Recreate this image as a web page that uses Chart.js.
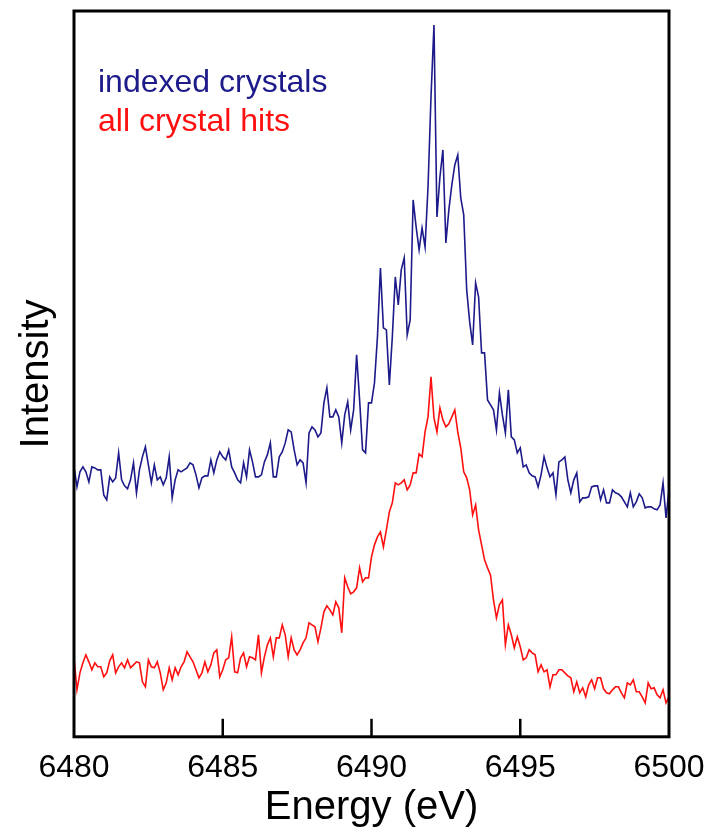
<!DOCTYPE html>
<html>
<head>
<meta charset="utf-8">
<title>Energy spectra</title>
<script src="https://cdn.jsdelivr.net/npm/chart.js@4/dist/chart.umd.min.js"></script>
<style>
  html, body { margin: 0; padding: 0; background: #fff; }
  #chart { display: block; }
</style>
</head>
<body>
<canvas id="chart" width="711" height="834"></canvas>
<script>
// energy grid (eV)
const energy = [
  6480.0, 6480.1, 6480.2, 6480.3, 6480.4, 6480.5, 6480.6, 6480.7, 6480.8, 6480.9,
  6481.0, 6481.1, 6481.2, 6481.3, 6481.4, 6481.5, 6481.6, 6481.7, 6481.8, 6481.9,
  6482.0, 6482.1, 6482.2, 6482.3, 6482.4, 6482.5, 6482.6, 6482.7, 6482.8, 6482.9,
  6483.0, 6483.1, 6483.2, 6483.3, 6483.4, 6483.5, 6483.6, 6483.7, 6483.8, 6483.9,
  6484.0, 6484.1, 6484.2, 6484.3, 6484.4, 6484.5, 6484.6, 6484.7, 6484.8, 6484.9,
  6485.0, 6485.1, 6485.2, 6485.3, 6485.4, 6485.5, 6485.6, 6485.7, 6485.8, 6485.9,
  6486.0, 6486.1, 6486.2, 6486.3, 6486.4, 6486.5, 6486.6, 6486.7, 6486.8, 6486.9,
  6487.0, 6487.1, 6487.2, 6487.3, 6487.4, 6487.5, 6487.6, 6487.7, 6487.8, 6487.9,
  6488.0, 6488.1, 6488.2, 6488.3, 6488.4, 6488.5, 6488.6, 6488.7, 6488.8, 6488.9,
  6489.0, 6489.1, 6489.2, 6489.3, 6489.4, 6489.5, 6489.6, 6489.7, 6489.8, 6489.9,
  6490.0, 6490.1, 6490.2, 6490.3, 6490.4, 6490.5, 6490.6, 6490.7, 6490.8, 6490.9,
  6491.0, 6491.1, 6491.2, 6491.3, 6491.4, 6491.5, 6491.6, 6491.7, 6491.8, 6491.9,
  6492.0, 6492.1, 6492.2, 6492.3, 6492.4, 6492.5, 6492.6, 6492.7, 6492.8, 6492.9,
  6493.0, 6493.1, 6493.2, 6493.3, 6493.4, 6493.5, 6493.6, 6493.7, 6493.8, 6493.9,
  6494.0, 6494.1, 6494.2, 6494.3, 6494.4, 6494.5, 6494.6, 6494.7, 6494.8, 6494.9,
  6495.0, 6495.1, 6495.2, 6495.3, 6495.4, 6495.5, 6495.6, 6495.7, 6495.8, 6495.9,
  6496.0, 6496.1, 6496.2, 6496.3, 6496.4, 6496.5, 6496.6, 6496.7, 6496.8, 6496.9,
  6497.0, 6497.1, 6497.2, 6497.3, 6497.4, 6497.5, 6497.6, 6497.7, 6497.8, 6497.9,
  6498.0, 6498.1, 6498.2, 6498.3, 6498.4, 6498.5, 6498.6, 6498.7, 6498.8, 6498.9,
  6499.0, 6499.1, 6499.2, 6499.3, 6499.4, 6499.5, 6499.6, 6499.7, 6499.8, 6499.9,
  6500.0
];

// intensity (arb. units, offset traces as plotted)
const indexedCrystals = [
  270, 250, 265, 270, 265, 255, 270, 269, 267, 267,
  242, 237, 260, 255, 259, 284, 257, 251, 248, 257,
  274, 244, 267, 280, 290, 272, 254, 272, 257, 260,
  252, 259, 280, 239, 257, 267, 265, 267, 269, 274,
  272, 262, 249, 259, 261, 261, 277, 264, 277, 285,
  280, 277, 287, 270, 264, 257, 254, 274, 260, 287,
  275, 260, 260, 262, 275, 282, 294, 260, 260, 280,
  285, 294, 307, 305, 287, 272, 277, 274, 254, 304,
  310, 307, 300, 304, 334, 349, 320, 320, 327, 320,
  294, 322, 335, 307, 327, 382, 337, 287, 284, 334,
  334, 354, 400, 469, 409, 407, 352, 400, 460, 432,
  467, 479, 402, 417, 537, 510, 487, 509, 490, 550,
  640, 712, 520, 560, 587, 494, 527, 552, 572, 582,
  539, 522, 447, 415, 392, 454, 440, 384, 384, 337,
  332, 327, 307, 344, 322, 304, 347, 300, 297, 284,
  289, 270, 272, 264, 261, 260, 250, 262, 280, 269,
  260, 264, 242, 275, 277, 280, 257, 244, 257, 264,
  235, 239, 239, 240, 250, 251, 251, 237, 247, 234,
  234, 247, 244, 243, 240, 235, 230, 244, 230, 235,
  243, 239, 229, 230, 230, 228, 227, 232, 254, 219,
  247
];

const allCrystalHits = [
  79, 47, 64, 74, 82, 75, 67, 74, 70, 70,
  60, 64, 76, 82, 64, 70, 74, 69, 77, 69,
  72, 75, 74, 55, 50, 77, 70, 69, 75, 64,
  47, 54, 69, 57, 69, 62, 70, 75, 85, 80,
  75, 67, 59, 64, 75, 65, 72, 84, 87, 60,
  67, 77, 79, 100, 65, 64, 79, 84, 70, 80,
  79, 77, 102, 64, 80, 92, 99, 80, 99, 99,
  112, 102, 80, 99, 87, 82, 87, 94, 99, 114,
  112, 110, 95, 109, 125, 131, 127, 122, 135, 129,
  104, 159, 150, 143, 145, 149, 169, 155, 159, 159,
  180, 192, 200, 205, 190, 207, 225, 234, 254, 252,
  254, 257, 247, 252, 264, 264, 283, 280, 305, 320,
  360, 319, 305, 329, 317, 310, 313, 320, 327, 305,
  289, 265, 259, 247, 222, 232, 207, 192, 177, 169,
  162, 137, 119, 132, 137, 92, 112, 102, 89, 100,
  90, 77, 79, 87, 84, 82, 65, 72, 65, 67,
  50, 62, 62, 67, 67, 64, 61, 59, 45, 55,
  44, 49, 40, 52, 57, 48, 59, 59, 48, 44,
  43, 47, 50, 50, 44, 39, 54, 52, 57, 45,
  45, 40, 34, 54, 48, 49, 42, 39, 47, 34,
  40
];

const seriesNames = ['indexed crystals', 'all crystal hits'];
const seriesColors = ['#1d1a8a', '#ff1010'];
const xTicks = [6480, 6485, 6490, 6495, 6500];

const FONT = '"Liberation Sans", Arial, Helvetica, sans-serif';

const toPoints = vals => energy.map((e, i) => ({ x: e, y: vals[i] }));

// frame, inward ticks and the in-plot legend
const framePlugin = {
    id: 'frame',
    afterDraw(chart) {
        const { ctx, chartArea: a } = chart;
        const xs = chart.scales.x;
        ctx.save();
        ctx.strokeStyle = '#000';
        ctx.lineWidth = 3;
        ctx.strokeRect(a.left, a.top, a.right - a.left, a.bottom - a.top);

        ctx.lineWidth = 2.5;
        xs.ticks.forEach(t => {
            if (t.value <= xs.min || t.value >= xs.max) return;
            const px = xs.getPixelForValue(t.value);
            ctx.beginPath();
            ctx.moveTo(px, a.bottom);
            ctx.lineTo(px, a.bottom - 18);
            ctx.stroke();
        });

        ctx.font = '32px ' + FONT;
        ctx.textBaseline = 'alphabetic';
        ctx.textAlign = 'left';
        seriesNames.forEach((name, i) => {
            ctx.fillStyle = seriesColors[i];
            ctx.fillText(name, a.left + 24, 92 + i * 39);
        });
        ctx.restore();
    }
};

new Chart(document.getElementById('chart'), {
    type: 'line',
    data: {
        datasets: [
            {
                label: seriesNames[1],
                data: toPoints(allCrystalHits),
                borderColor: seriesColors[1],
                borderWidth: 1.6,
                pointRadius: 0,
                tension: 0,
                fill: false
            },
            {
                label: seriesNames[0],
                data: toPoints(indexedCrystals),
                borderColor: seriesColors[0],
                borderWidth: 1.6,
                pointRadius: 0,
                tension: 0,
                fill: false
            }
        ]
    },
    options: {
        responsive: false,
        animation: false,
        layout: { padding: { left: 0, right: 42, top: 11, bottom: 1 } },
        plugins: {
            legend: { display: false },
            tooltip: { enabled: false }
        },
        scales: {
            x: {
                type: 'linear',
                min: 6480,
                max: 6500,
                afterBuildTicks: s => { s.ticks = xTicks.map(v => ({ value: v })); },
                afterFit: s => { s.paddingLeft = 0; s.paddingRight = 0; },
                ticks: {
                    color: '#000',
                    padding: 14,
                    maxRotation: 0,
                    font: { family: FONT, size: 32, lineHeight: 1.1 },
                    callback: v => String(v)
                },
                grid: { display: false, drawTicks: false },
                border: { display: false },
                title: {
                    display: true,
                    text: 'Energy (eV)',
                    color: '#000',
                    font: { family: FONT, size: 40, lineHeight: 1.2 },
                    padding: { top: -16, bottom: 1 }
                }
            },
            y: {
                min: 0,
                max: 726,
                ticks: { display: false },
                grid: { display: false, drawTicks: false },
                border: { display: false },
                title: {
                    display: true,
                    text: 'Intensity',
                    color: '#000',
                    font: { family: FONT, size: 40, lineHeight: 1.2 },
                    padding: { top: 13, bottom: 13 }
                }
            }
        }
    },
    plugins: [framePlugin]
});
</script>
</body>
</html>
